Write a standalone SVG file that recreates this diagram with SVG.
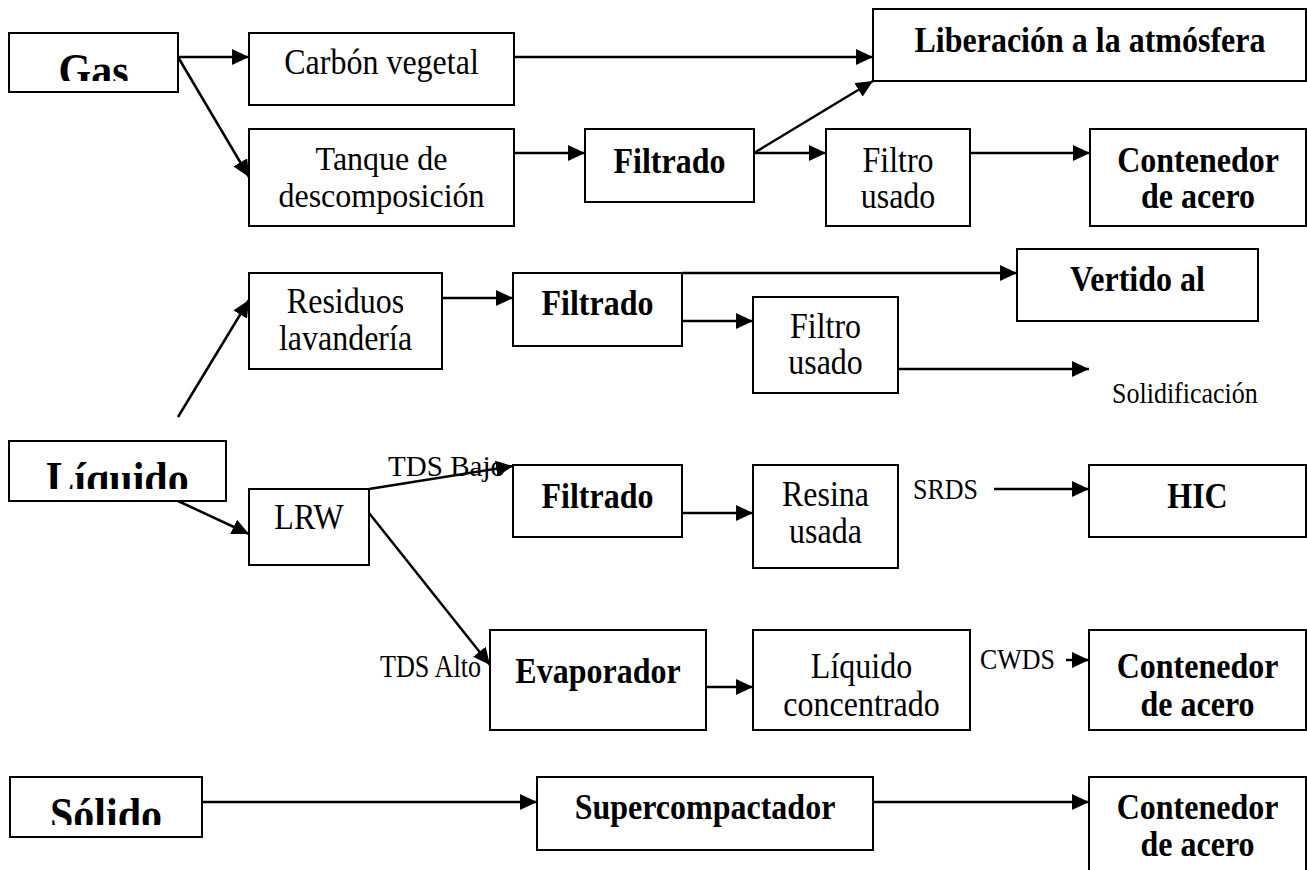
<svg xmlns="http://www.w3.org/2000/svg" width="1307" height="870" viewBox="0 0 1307 870">
<style>
.box{fill:#fff;stroke:#000;stroke-width:2}
.t{font-family:"Liberation Serif","Times New Roman",serif;font-size:32px;fill:#000;text-anchor:middle}
.b{font-weight:bold}
.big{font-family:"Liberation Serif","Times New Roman",serif;font-size:42px;font-weight:bold;fill:#000;text-anchor:middle}
.s{font-family:"Liberation Serif","Times New Roman",serif;font-size:26px;fill:#000}
.c{fill:none;stroke:#000;stroke-width:2.5;marker-end:url(#ah)}
</style>
<defs>
<marker id="ah" markerUnits="userSpaceOnUse" markerWidth="18" markerHeight="16" refX="17" refY="8" orient="auto">
<path d="M0,0 L17,8 L0,16 z" fill="#000"/>
</marker>
<clipPath id="cg"><rect x="9" y="33" width="169" height="48"/></clipPath>
<clipPath id="cl"><rect x="9" y="441" width="217" height="48"/></clipPath>
<clipPath id="cs"><rect x="10" y="777" width="192" height="48"/></clipPath>
</defs>
<rect width="1307" height="870" fill="#fff"/>
<g id="connectors">
<line class="c" x1="178" y1="57" x2="249" y2="57"/>
<line class="c" x1="178" y1="57" x2="249" y2="177"/>
<line class="c" x1="514" y1="57" x2="873" y2="57"/>
<line class="c" x1="514" y1="153" x2="585" y2="153"/>
<line class="c" x1="754" y1="153" x2="873" y2="81"/>
<line class="c" x1="754" y1="153" x2="826" y2="153"/>
<line class="c" x1="970" y1="153" x2="1090" y2="153"/>
<line class="c" x1="178" y1="417" x2="249" y2="300"/>
<line class="c" x1="442" y1="298" x2="513" y2="298"/>
<line class="c" x1="682" y1="273" x2="1017" y2="273"/>
<line class="c" x1="682" y1="321" x2="753" y2="321"/>
<line class="c" x1="898" y1="369" x2="1089" y2="369"/>
<line class="c" x1="178" y1="501" x2="249" y2="534"/>
<line class="c" x1="369" y1="489" x2="513" y2="466"/>
<line class="c" x1="369" y1="513" x2="490" y2="665"/>
<line class="c" x1="682" y1="513" x2="753" y2="513"/>
<line class="c" x1="994" y1="489" x2="1089" y2="489"/>
<line class="c" x1="706" y1="687" x2="753" y2="687"/>
<line class="c" x1="1066" y1="660" x2="1089" y2="660"/>
<line class="c" x1="202" y1="802" x2="537" y2="802"/>
<line class="c" x1="873" y1="802" x2="1089" y2="802"/>
</g>
<g id="gas"><rect class="box" x="9" y="33" width="169" height="59"/><g clip-path="url(#cg)"><text class="big" transform="translate(93.5 86) scale(1 1.1)">Gas</text></g></g>
<g id="carbon"><rect class="box" x="249" y="33" width="265" height="72"/><text class="t" transform="translate(381.5 74) scale(1 1.12)">Carbón vegetal</text></g>
<g id="tanque"><rect class="box" x="249" y="129" width="265" height="97"/><text class="t" transform="translate(381.5 170) scale(1 1.04)">Tanque de</text><text class="t" transform="translate(381.5 207) scale(1 1.04)">descomposición</text></g>
<g id="filtrado1"><rect class="box" x="585" y="129" width="169" height="73"/><text class="t b" transform="translate(669.5 173) scale(1 1.12)">Filtrado</text></g>
<g id="liberacion"><rect class="box" x="873" y="9" width="433" height="72"/><text class="t b" transform="translate(1090 52) scale(1 1.12)">Liberación a la atmósfera</text></g>
<g id="filtro1"><rect class="box" x="826" y="129" width="144" height="97"/><text class="t" transform="translate(898 172) scale(1 1.12)">Filtro</text><text class="t" transform="translate(898 208) scale(1 1.12)">usado</text></g>
<g id="contenedor1"><rect class="box" x="1090" y="129" width="216" height="97"/><text class="t b" transform="translate(1198 172) scale(1 1.12)">Contenedor</text><text class="t b" transform="translate(1198 208) scale(1 1.12)">de acero</text></g>
<g id="residuos"><rect class="box" x="249" y="273" width="193" height="96"/><text class="t" transform="translate(345.5 313) scale(1 1.12)">Residuos</text><text class="t" transform="translate(345.5 350) scale(1 1.12)">lavandería</text></g>
<g id="filtrado2"><rect class="box" x="513" y="273" width="169" height="73"/><text class="t b" transform="translate(597.5 315) scale(1 1.12)">Filtrado</text></g>
<g id="vertido"><rect class="box" x="1017" y="249" width="241" height="72"/><text class="t b" transform="translate(1137.5 291) scale(1 1.12)">Vertido al</text></g>
<g id="filtro2"><rect class="box" x="753" y="297" width="145" height="96"/><text class="t" transform="translate(825.5 338) scale(1 1.12)">Filtro</text><text class="t" transform="translate(825.5 374) scale(1 1.12)">usado</text></g>
<g id="solidificacion"><text class="s" transform="translate(1112 403) scale(1 1.1)">Solidificación</text></g>
<g id="liquido"><rect class="box" x="9" y="441" width="217" height="60"/><g clip-path="url(#cl)"><text class="big" transform="translate(117.5 494) scale(1 1.1)">Líquido</text></g></g>
<g id="lrw"><rect class="box" x="249" y="489" width="120" height="76"/><text class="t" transform="translate(309 529) scale(1 1.12)">LRW</text></g>
<g id="labels">
<text class="s" transform="translate(388 476) scale(1 1.15)" textLength="117" lengthAdjust="spacingAndGlyphs">TDS Bajo</text>
<text class="s" transform="translate(380 677) scale(1 1.2)" textLength="101" lengthAdjust="spacingAndGlyphs">TDS Alto</text>
<text class="s" transform="translate(913 499) scale(1 1.12)">SRDS</text>
<text class="s" transform="translate(980 669) scale(1 1.15)" textLength="75" lengthAdjust="spacingAndGlyphs">CWDS</text>
</g>
<g id="filtrado3"><rect class="box" x="513" y="465" width="169" height="72"/><text class="t b" transform="translate(597.5 508) scale(1 1.12)">Filtrado</text></g>
<g id="resina"><rect class="box" x="753" y="465" width="145" height="103"/><text class="t" transform="translate(825.5 506) scale(1 1.12)">Resina</text><text class="t" transform="translate(825.5 543) scale(1 1.12)">usada</text></g>
<g id="hic"><rect class="box" x="1089" y="465" width="217" height="72"/><text class="t b" transform="translate(1197.5 508) scale(1 1.12)">HIC</text></g>
<g id="evaporador"><rect class="box" x="490" y="630" width="216" height="100"/><text class="t b" transform="translate(598 683) scale(1 1.12)">Evaporador</text></g>
<g id="liqconc"><rect class="box" x="753" y="630" width="217" height="100"/><text class="t" transform="translate(861.5 678) scale(1 1.12)">Líquido</text><text class="t" transform="translate(861.5 716) scale(1 1.12)">concentrado</text></g>
<g id="contenedor2"><rect class="box" x="1089" y="630" width="217" height="100"/><text class="t b" transform="translate(1197.5 678) scale(1 1.12)">Contenedor</text><text class="t b" transform="translate(1197.5 716) scale(1 1.12)">de acero</text></g>
<g id="solido"><rect class="box" x="10" y="777" width="192" height="60"/><g clip-path="url(#cs)"><text class="big" transform="translate(106 830) scale(1 1.1)">Sólido</text></g></g>
<g id="super"><rect class="box" x="537" y="777" width="336" height="73"/><text class="t b" transform="translate(705 819) scale(1 1.12)">Supercompactador</text></g>
<g id="contenedor3"><rect class="box" x="1089" y="777" width="217" height="110"/><text class="t b" transform="translate(1197.5 819) scale(1 1.12)">Contenedor</text><text class="t b" transform="translate(1197.5 856) scale(1 1.12)">de acero</text></g>
</svg>
